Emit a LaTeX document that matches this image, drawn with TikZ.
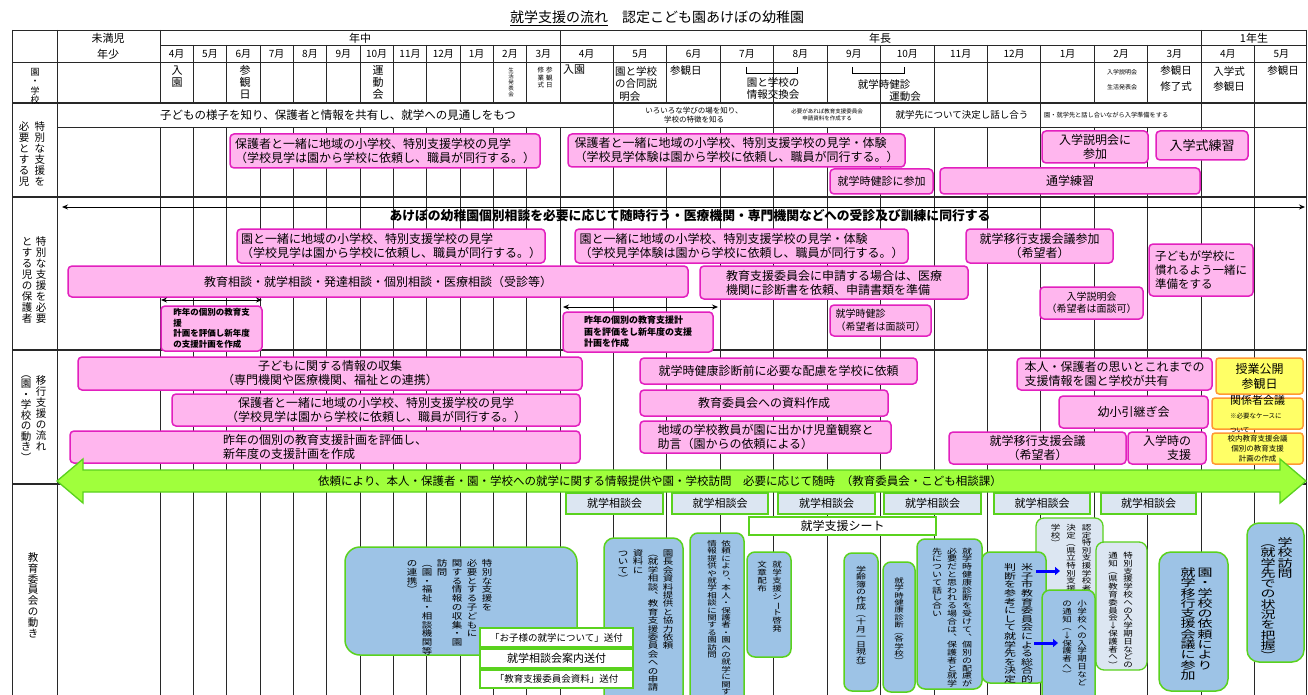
\documentclass[tikz,border=0pt]{standalone}
\usepackage{graphicx}
\usepackage{fontspec}
\setmainfont{Noto Sans CJK JP}
\usetikzlibrary{arrows.meta,fit}
\definecolor{pinkF}{RGB}{255,182,238}
\definecolor{pinkD}{RGB}{226,32,190}
\definecolor{ylwF}{RGB}{255,255,102}
\definecolor{ylwD}{RGB}{255,153,51}
\definecolor{grnF}{RGB}{160,255,60}
\definecolor{grnD}{RGB}{90,210,30}
\definecolor{bluF}{RGB}{157,195,230}
\definecolor{bluL}{RGB}{220,230,242}
\definecolor{gridC}{RGB}{40,40,40}
\newcommand\fs[2]{\fontsize{#1}{#2}\selectfont}
\newdimen\vpitch \vpitch=10pt
\def\vsc{1}
\def\vgapv{4pt}
\def\vsend{\vsend}
\newcommand\vcolumn[1]{\vtop{\offinterlineskip\hbox{\vrule height .88em depth 0pt width 0pt}\vsstep#1\vsend}}
\def\vsstep#1{\ifx#1\vsend\else\hbox to 1em{\hss\smash{\scalebox{1}[\vsc]{#1}}\hss}\vskip\vpitch\relax\expandafter\vsstep\fi}
\newcommand\vset[4]{\fs{#1}{#1}\vpitch=#2pt\relax\def\vsc{#3}\def\vgapv{#4pt}}
\newcommand\vg{\hskip\vgapv\relax}
\protected\def\vL{\rotatebox[origin=c]{-90}{（}}
\protected\def\vR{\rotatebox[origin=c]{-90}{）}}
\protected\def\vH{\rotatebox[origin=c]{-90}{ー}}
\protected\def\vA{↓}
\protected\def\vC{\raisebox{.5em}{\rotatebox[origin=c]{180}{、}}}
\newcommand\boxtext[5]{\node[#1,fit={#2}] (#3) {}; \node[ptxt,#4] (#3t) at (#3.center) {#5};}
\tikzset{
 pbox/.style={draw=pinkD, fill=pinkF, line width=1.5pt, rounded corners=4pt, inner sep=0pt},
 ybox/.style={draw=ylwD, fill=ylwF, line width=1.5pt, rounded corners=3pt, inner sep=0pt},
 bbox/.style={draw=grnD, fill=bluF, line width=1.5pt, rounded corners=8pt, inner sep=0pt},
 lbox/.style={draw=grnD, fill=bluL, line width=1.3pt, inner sep=0pt},
 wbox/.style={draw=grnD, fill=white, line width=1.3pt, inner sep=0pt},
 ptxt/.style={inner sep=0pt, align=center, font=\fs{12}{14}},
 vtxt/.style={inner sep=0pt, anchor=north},
 txt/.style={inner sep=0pt},
 grid/.style={draw=gridC, line width=0.8pt},
 rowline/.style={draw=gridC, line width=1.6pt},
 dbl/.style={{Stealth[length=6pt,width=5pt]}-{Stealth[length=6pt,width=5pt]}, line width=0.9pt},
 barrow/.style={-{Triangle[length=5pt,width=8pt]}, line width=3pt, draw=blue},
}
\begin{document}
\begin{tikzpicture}[x=1pt,y=-1pt]
\useasboundingbox (0,0) rectangle (1308,695);
\clip (0,0) rectangle (1308,695);
\fill[white] (0,0) rectangle (1308,695);
% ---------- grid ----------
\draw[grid] (12,30) -- (1306,30);
\draw[grid] (160,45) -- (1306,45);
\draw[grid] (12,62) -- (1306,62);
\draw[grid] (57,127) -- (1306,127);
\foreach \x in {12,57,1306} \draw[grid] (\x,30) -- (\x,695);
\foreach \x in {160,560} {\draw[grid] (\x,30) -- (\x,103); \draw[grid] (\x,127) -- (\x,695);}
\foreach \k in {1,...,11} {\draw[grid] ({160+33.333*\k},45) -- ({160+33.333*\k},103); \draw[grid] ({160+33.333*\k},127) -- ({160+33.333*\k},695);}
\foreach \k in {1,...,13} {\draw[grid] ({560+53.43*\k},45) -- ({560+53.43*\k},103); \draw[grid] ({560+53.43*\k},127) -- ({560+53.43*\k},695);}
\draw[grid] (1201.16,30) -- (1201.16,45);
\foreach \x in {613.43,773.72,880.58,1040.87,1201.16,1254.59} \draw[grid] (\x,103) -- (\x,127);
\draw[rowline] (12,103) -- (1306,103);
\draw[rowline] (12,197) -- (1306,197);
\draw[rowline] (12,350) -- (1306,350);
\draw[rowline] (12,484) -- (1306,484);
% ---------- title & header ----------
\node[txt,font=\fs{14}{16}] (title) at (657,18) {\underline{就学支援の流れ}\quad 認定こども園あけぼの幼稚園};
\node[txt,font=\fs{11}{13}] (hMi) at (108,38) {未満児};
\node[txt,font=\fs{11}{13}] (hSh) at (108,54) {年少};
\node[txt,font=\fs{11}{13}] (hNc) at (360,38) {年中};
\node[txt,font=\fs{11}{13}] (hNl) at (880,38) {年長};
\node[txt,font=\fs{11}{13}] (h1n) at (1254,38) {1年生};
\foreach \m [count=\i] in {4,5,6,7,8,9,10,11,12,1,2,3} \node[txt,font=\fs{10}{12}] (mA\i) at ({160+33.333*(\i-0.5)},54) {\m 月};
\foreach \m [count=\i] in {4,5,6,7,8,9,10,11,12,1,2,3,4,5} \node[txt,font=\fs{10}{12}] (mB\i) at ({560+53.43*(\i-0.5)},54) {\m 月};
% ---------- event row ----------
\node[vtxt] (lE) at (35,67) {\vset{9}{9.5}{1}{0}\vcolumn{園・学校}};
\node[vtxt] (ev1) at (177,65) {\vset{11}{12}{1}{0}\vcolumn{入園}};
\node[vtxt] (ev2) at (245,65) {\vset{11}{12}{1}{0}\vcolumn{参観日}};
\node[vtxt] (ev3) at (378,65) {\vset{11}{12}{1}{0}\vcolumn{運動会}};
\node[vtxt] (ev4) at (511,67) {\vset{5.5}{6}{1}{0}\vcolumn{生活発表会}};
\node[vtxt] (ev5) at (545,67) {\vset{6.5}{7.5}{1}{2}\vcolumn{修業式}\vg\vcolumn{参観日}};
\node[txt,anchor=north west,font=\fs{11}{13}] (ev6) at (563,65) {入園};
\node[txt,anchor=north west,font=\fs{10.5}{12.5},align=left] (ev7) at (615,66) {園と学校\\の合同説\\\hspace{.4em}明会};
\node[txt,anchor=north west,font=\fs{10.5}{12.5}] (ev8) at (670,65) {参観日};
\draw[line width=1pt] (746,67) -- (746,74) -- (797,74) -- (797,67);
\node[txt,anchor=north,font=\fs{10.5}{12.5},align=left] (ev9) at (773,77) {園と学校の\\情報交換会};
\draw[line width=1pt] (852,67) -- (852,74) -- (904,74) -- (904,67);
\node[txt,font=\fs{10.5}{12.5}] (ev10) at (884,84) {就学時健診};
\node[txt,font=\fs{10.5}{12.5}] (ev11) at (905,97) {運動会};
\node[txt,font=\fs{6}{7}] (ev12) at (1122,72) {入学説明会};
\node[txt,font=\fs{6}{7}] (ev13) at (1122,87) {生活発表会};
\node[txt,font=\fs{10.5}{12}] (ev14) at (1176,71) {参観日};
\node[txt,font=\fs{10.5}{12}] (ev15) at (1176,87) {修了式};
\node[txt,font=\fs{10.5}{12}] (ev16) at (1229,71) {入学式};
\node[txt,font=\fs{10.5}{12}] (ev17) at (1229,87) {参観日};
\node[txt,font=\fs{10.5}{12}] (ev18) at (1283,71) {参観日};
% ---------- row A ----------
\node[vtxt] (lA) at (32,121) {\vset{10.5}{11}{1}{5.5}\vcolumn{必要とする児}\vg\vcolumn{特別な支援を}};
\node[txt,font=\fs{11.5}{13}] (g1) at (338,115) {子どもの様子を知り、保護者と情報を共有し、就学への見通しをもつ};
\node[txt,font=\fs{7.5}{9},align=center] (g2) at (694,115) {いろいろな学びの場を知り、\\学校の特徴を知る};
\node[txt,font=\fs{5.5}{7},align=center] (g3) at (827,115) {必要があれば教育支援委員会\\申請資料を作成する};
\node[txt,font=\fs{9.5}{11}] (g4) at (962,115) {就学先について決定し話し合う};
\node[txt,font=\fs{6.2}{8},anchor=west] (g5) at (1044,115) {園・就学先と話し合いながら入学準備をする};
\boxtext{pbox}{(230,134)(540,168)}{a1}{align=left}{保護者と一緒に地域の小学校、特別支援学校の見学\\（学校見学は園から学校に依頼し、職員が同行する。）}
\boxtext{pbox}{(568,134)(905,167)}{a2}{align=left}{保護者と一緒に地域の小学校、特別支援学校の見学・体験\\（学校見学体験は園から学校に依頼し、職員が同行する。）}
\boxtext{pbox}{(830,169)(933,194)}{a3}{font=\fs{11}{13}}{就学時健診に参加}
\boxtext{pbox}{(940,168)(1200,194)}{a4}{}{通学練習}
\boxtext{pbox}{(1042,131)(1148,163)}{a5}{}{入学説明会に\\参加}
\boxtext{pbox}{(1156,131)(1248,160)}{a6}{font=\fs{13}{15}}{入学式練習}
% ---------- row B ----------
\node[vtxt] (lB) at (34,236) {\vset{10.5}{11}{1}{3.5}\vcolumn{とする児の保護者}\vg\vcolumn{特別な支援を必要}};
\coordinate (bl) at (62,207); \coordinate (br) at (1305,207);
\draw[dbl] (bl) -- (br);
\node[txt,font=\fs{12.8}{14}\bfseries] (bt) at (690,216) {あけぼの幼稚園個別相談を必要に応じて随時行う・医療機関・専門機関などへの受診及び訓練に同行する};
\boxtext{pbox}{(237,229)(545,263)}{b1}{align=left}{園と一緒に地域の小学校、特別支援学校の見学\\（学校見学は園から学校に依頼し、職員が同行する。）}
\boxtext{pbox}{(575,229)(908,263)}{b2}{align=left}{園と一緒に地域の小学校、特別支援学校の見学・体験\\（学校見学体験は園から学校に依頼し、職員が同行する。）}
\boxtext{pbox}{(68,266)(688,297)}{b3}{}{教育相談・就学相談・発達相談・個別相談・医療相談（受診等）}
\boxtext{pbox}{(700,266)(968,299)}{b4}{align=left}{教育支援委員会に申請する場合は、医療\\機関に診断書を依頼、申請書類を準備}
\boxtext{pbox}{(966,229)(1113,263)}{b5}{}{就学移行支援会議参加\\（希望者）}
\boxtext{pbox}{(1149,244)(1253,296)}{b6}{align=left,font=\fs{11.5}{14}}{子どもが学校に\\慣れるよう一緒に\\準備をする}
\boxtext{pbox}{(1040,287)(1143,319)}{b7}{font=\fs{10}{12.5}}{入学説明会\\（希望者は面談可）}
\boxtext{pbox}{(830,305)(931,336)}{b8}{align=left,font=\fs{10}{12.5}}{就学時健診\\（希望者は面談可）}
\coordinate (s1l) at (161,300); \coordinate (s1r) at (262,300);
\draw[dbl] (s1l) -- (s1r);
\coordinate (s2l) at (563,307); \coordinate (s2r) at (718,307);
\draw[dbl] (s2l) -- (s2r);
\boxtext{pbox}{(161,306)(262,351)}{b9}{align=left,font=\fs{8.5}{10.5}\bfseries}{昨年の個別の教育支\\援\\計画を評価し新年度\\の支援計画を作成}
\boxtext{pbox}{(563,312)(713,352)}{b10}{align=left,font=\fs{9}{11.5}\bfseries}{昨年の個別の教育支援計\\画を評価をし新年度の支援\\計画を作成}
% ---------- row C ----------
\node[vtxt] (lC1) at (41,375) {\vset{10.5}{11}{1}{0}\vcolumn{移行支援の流れ}};
\node[vtxt] (lC2) at (26,368) {\vset{10.5}{10.5}{1}{0}\vcolumn{\vL 園・学校の動き\vR}};
\boxtext{pbox}{(78,357)(582,390)}{c1}{}{子どもに関する情報の収集\\（専門機関や医療機関、福祉との連携）}
\boxtext{pbox}{(172,394)(580,426)}{c2}{}{保護者と一緒に地域の小学校、特別支援学校の見学\\（学校見学は園から学校に依頼し、職員が同行する。）}
\boxtext{pbox}{(70,431)(580,463)}{c3}{align=left}{昨年の個別の教育支援計画を評価し、\\新年度の支援計画を作成}
\boxtext{pbox}{(640,358)(917,384)}{c4}{}{就学時健康診断前に必要な配慮を学校に依頼}
\boxtext{pbox}{(640,390)(888,416)}{c5}{}{教育委員会への資料作成}
\boxtext{pbox}{(640,421)(891,453)}{c6}{align=left}{地域の学校教員が園に出かけ児童観察と\\助言（園からの依頼による）}
\boxtext{pbox}{(1017,358)(1212,390)}{c7}{align=left}{本人・保護者の思いとこれまでの\\支援情報を園と学校が共有}
\boxtext{pbox}{(1059,396)(1208,428)}{c8}{}{幼小引継ぎ会}
\boxtext{pbox}{(949,432)(1126,464)}{c9}{}{就学移行支援会議\\（希望者）}
\boxtext{pbox}{(1128,432)(1206,464)}{c10}{align=right}{入学時の\\支援}
\boxtext{ybox}{(1216,358)(1303,394)}{y1}{font=\fs{12}{15}}{授業公開\\参観日}
\boxtext{ybox}{(1212,398)(1303,429)}{y2}{align=left}{{\fs{11}{12}関係者会議}\\{\fs{6.5}{8.5}※必要なケースに}\\{\fs{6.5}{8.5}ついて}}
\boxtext{ybox}{(1212,433)(1303,464)}{y3}{font=\fs{7.5}{10}}{校内教育支援会議\\個別の教育支援\\計画の作成}
% ---------- green block arrow ----------
\coordinate (gL) at (57,481); \coordinate (gR) at (1306,481);
\filldraw[draw=grnD, fill=grnF, line width=1.3pt] (gL) -- (83,459) -- (83,470) -- (1280,470) -- (1280,459) -- (gR) -- (1280,503) -- (1280,492) -- (83,492) -- (83,503) -- cycle;
\node[txt,font=\fs{11.5}{13}] (gt) at (660,481) {依頼により、本人・保護者・園・学校への就学に関する情報提供や園・学校訪問\quad 必要に応じて随時\enspace （教育委員会・こども相談課）};
% ---------- row D ----------
\node[vtxt] (lD) at (33,552) {\vset{10.5}{10.8}{1}{0}\vcolumn{教育委員会の動き}};
\boxtext{lbox}{(566,493)(663,514)}{sd1}{font=\fs{11}{13}}{就学相談会}
\boxtext{lbox}{(672,493)(768,514)}{sd2}{font=\fs{11}{13}}{就学相談会}
\boxtext{lbox}{(778,493)(875,514)}{sd3}{font=\fs{11}{13}}{就学相談会}
\boxtext{lbox}{(884,493)(981,514)}{sd4}{font=\fs{11}{13}}{就学相談会}
\boxtext{lbox}{(994,493)(1090,514)}{sd5}{font=\fs{11}{13}}{就学相談会}
\boxtext{lbox}{(1101,493)(1196,514)}{sd6}{font=\fs{11}{13}}{就学相談会}
\boxtext{wbox}{(749,517)(936,535)}{sheet}{}{就学支援シート}
\node[bbox,rounded corners=15pt,fit={(345,547)(577,655)}] (d1) {};
\node[vtxt] (d1t) at (449.5,557) {\vset{10.5}{8.8}{.8}{4.5}\vcolumn{の連携\vR}\vg\vcolumn{\vL 園・福祉・相談機関等}\vg\vcolumn{訪問}\vg\vcolumn{関する情報の収集・園}\vg\vcolumn{必要とする子どもに}\vg\vcolumn{特別な支援を}};
\node[bbox,rounded corners=10pt,fit={(604,538)(683,705)}] (d2) {};
\node[vtxt] (d2t) at (645.5,547) {\vset{10.5}{8.4}{.78}{4.5}\vcolumn{ついて\vR}\vg\vcolumn{資料に}\vg\vcolumn{\vL 就学相談\vC 教育支援委員会への申請}\vg\vcolumn{園長会資料提供と協力依頼}};
\boxtext{wbox}{(480,628)(633,647)}{w1}{font=\fs{9.5}{11}}{「お子様の就学について」送付}
\boxtext{wbox}{(480,649)(633,668)}{w2}{font=\fs{11}{13}}{就学相談会案内送付}
\boxtext{wbox}{(480,670)(633,688)}{w3}{font=\fs{9.5}{11}}{「教育支援委員会資料」送付}
\node[bbox,fit={(690,533)(744,705)}] (d3) {};
\node[vtxt] (d3t) at (719,538) {\vset{9.5}{7.4}{.76}{4.5}\vcolumn{情報提供や就学相談に関する園訪問}\vg\vcolumn{依頼により\vC 本人・保護者・園への就学に関す}};
\node[bbox,fit={(747,552)(791,657)}] (d4) {};
\node[vtxt] (d4t) at (769.5,559) {\vset{9.5}{8}{.8}{5.5}\vcolumn{文章配布}\vg\vcolumn{就学支援シ\vH ト啓発}};
\node[bbox,fit={(844,553)(878,691)}] (d5) {};
\node[vtxt] (d5t) at (861,563) {\vset{10}{7.5}{.74}{0}\vcolumn{学齢簿の作成\vL 十月一日現在\vR}};
\node[bbox,fit={(883,562)(915,692)}] (d6) {};
\node[vtxt] (d6t) at (899,575) {\vset{9.5}{7.3}{.74}{0}\vcolumn{就学時健康診断\vL 各学校\vR}};
\node[bbox,fit={(917,539)(982,689)}] (d7) {};
\node[vtxt] (d7t) at (952,545) {\vset{10}{7.8}{.76}{5}\vcolumn{先について話し合い}\vg\vcolumn{必要だと思われる場合は\vC 保護者と就学}\vg\vcolumn{就学時健康診断を受けて\vC 個別の配慮が}};
\node[lbox,rounded corners=8pt,fit={(1036,518)(1103,610)}] (d9) {};
\node[vtxt] (d9t) at (1071,522) {\vset{9.5}{7.6}{.78}{6}\vcolumn{学校\vR}\vg\vcolumn{決定\vL 県立特別支援}\vg\vcolumn{認定特別支援学校者}};
\node[bbox,fit={(982,552)(1046,683)}] (d8) {};
\node[vtxt] (d8t) at (1018.5,560) {\vset{12}{8.6}{.7}{5}\vcolumn{判断を参考にして就学先を決定}\vg\vcolumn{米子市教育委員会による総合的}};
\node[bbox,fit={(1042,590)(1095,705)}] (d10) {};
\node[vtxt] (d10t) at (1074.5,598) {\vset{9.5}{7.9}{.8}{5.5}\vcolumn{の通知\vL\vA 保護者へ\vR}\vg\vcolumn{小学校への入学期日など}};
\node[lbox,rounded corners=8pt,fit={(1096,542)(1147,670)}] (d11) {};
\node[vtxt] (d11t) at (1120.5,550) {\vset{9.5}{7.8}{.8}{5.5}\vcolumn{通知\vL 県教育委員会\vA 保護者へ\vR}\vg\vcolumn{特別支援学校への入学期日などの}};
\node[bbox,rounded corners=12pt,fit={(1159,552)(1228,691)}] (d12) {};
\node[vtxt] (d12t) at (1196.5,563) {\vset{15}{10.3}{.7}{2}\vcolumn{就学移行支援会議に参加}\vg\vcolumn{園・学校の依頼により}};
\node[bbox,rounded corners=12pt,fit={(1247,523)(1304,662)}] (d13) {};
\node[vtxt] (d13t) at (1276.5,533) {\vset{15}{10.3}{.7}{2}\vcolumn{\vL 就学先での状況を把握\vR}\vg\vcolumn{学校訪問}};
\coordinate (ba1s) at (1036,571); \coordinate (ba1e) at (1060,571);
\coordinate (ba2s) at (1034,643); \coordinate (ba2e) at (1058,643);
\draw[barrow] (ba1s) -- (ba1e);
\draw[barrow] (ba2s) -- (ba2e);
\end{tikzpicture}
\end{document}
